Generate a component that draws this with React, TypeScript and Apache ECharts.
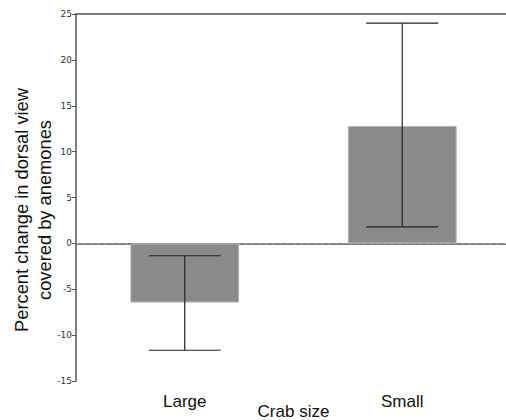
import React, { useEffect, useRef } from "react";
import * as echarts from "echarts";

const categories = ["Large", "Small"];
const means = [-6.45, 12.8];
const lowErr = [-11.65, 1.8];
const highErr = [-1.35, 24.0];
const yTicks = { min: -15, max: 25, interval: 5 };

export default function App() {
  const ref = useRef<HTMLDivElement>(null);
  useEffect(() => {
    const chart = echarts.init(ref.current!, null, { renderer: "svg" });
    const errData = categories.map((_, i) => [i, lowErr[i], highErr[i]]);
    chart.setOption({
      animation: false,
      grid: { left: 76, right: -5, top: 14, bottom: 39, outerBoundsMode: "none", containLabel: false },
      xAxis: [
        {
          type: "category",
          data: categories,
          position: "bottom",
          axisLine: { lineStyle: { color: "#555", width: 1.5 } },
          axisTick: { show: false },
          axisLabel: {
            color: "#111",
            fontSize: 17,
            fontFamily: "Liberation Sans",
            margin: 12,
          },
          name: "Crab size",
          nameLocation: "middle",
          nameGap: 22,
          nameMoveOverlap: false,
          nameTextStyle: { color: "#111", fontSize: 17, fontFamily: "Liberation Sans" },
        },
        {
          type: "category",
          data: categories,
          position: "top",
          axisLine: { lineStyle: { color: "#555", width: 1.5 } },
          axisTick: { show: false },
          axisLabel: { show: false },
        },
      ],
      yAxis: {
        type: "value",
        min: yTicks.min,
        max: yTicks.max,
        interval: yTicks.interval,
        axisLine: { show: true, lineStyle: { color: "#555", width: 1.5 } },
        axisTick: { show: true, length: 4, lineStyle: { color: "#555" } },
        splitLine: { show: false },
        axisLabel: { color: "#333", fontSize: 9, fontFamily: "DejaVu Sans", margin: 4 },
      },
      graphic: [
        {
          type: "text",
          x: 33,
          y: 210,
          rotation: Math.PI / 2,
          style: {
            text: "Percent change in dorsal view\ncovered by anemones",
            fontSize: 18.3,
            fontFamily: "Liberation Sans",
            fill: "#111",
            align: "center",
            verticalAlign: "middle",
            lineHeight: 23,
          },
        },
      ],
      series: [
        {
          type: "bar",
          data: means,
          barWidth: "50%",
          itemStyle: { color: "#8a8a8a", borderColor: "#b5b5b5", borderWidth: 1 },
          markLine: {
            silent: true,
            symbol: "none",
            label: { show: false },
            lineStyle: { color: "#aaa", type: [3, 4], width: 1 },
            data: [{ yAxis: 0 }],
          },
          z: 2,
        },
        {
          type: "custom",
          data: errData,
          z: 5,
          renderItem: (params: any, api: any) => {
            const x = api.value(0);
            const lo = api.coord([x, api.value(1)]);
            const hi = api.coord([x, api.value(2)]);
            const half = 36;
            const style = { stroke: "#222", lineWidth: 1.2 };
            return {
              type: "group",
              children: [
                { type: "line", shape: { x1: lo[0], y1: lo[1], x2: hi[0], y2: hi[1] }, style },
                { type: "line", shape: { x1: lo[0] - half, y1: lo[1], x2: lo[0] + half, y2: lo[1] }, style },
                { type: "line", shape: { x1: hi[0] - half, y1: hi[1], x2: hi[0] + half, y2: hi[1] }, style },
              ],
            };
          },
        },
      ],
    });
    return () => chart.dispose();
  }, []);
  return (
    <div
      ref={ref}
      style={{ position: "fixed", left: 0, top: 0, width: 506, height: 420, background: "#fff" }}
    />
  );
}
